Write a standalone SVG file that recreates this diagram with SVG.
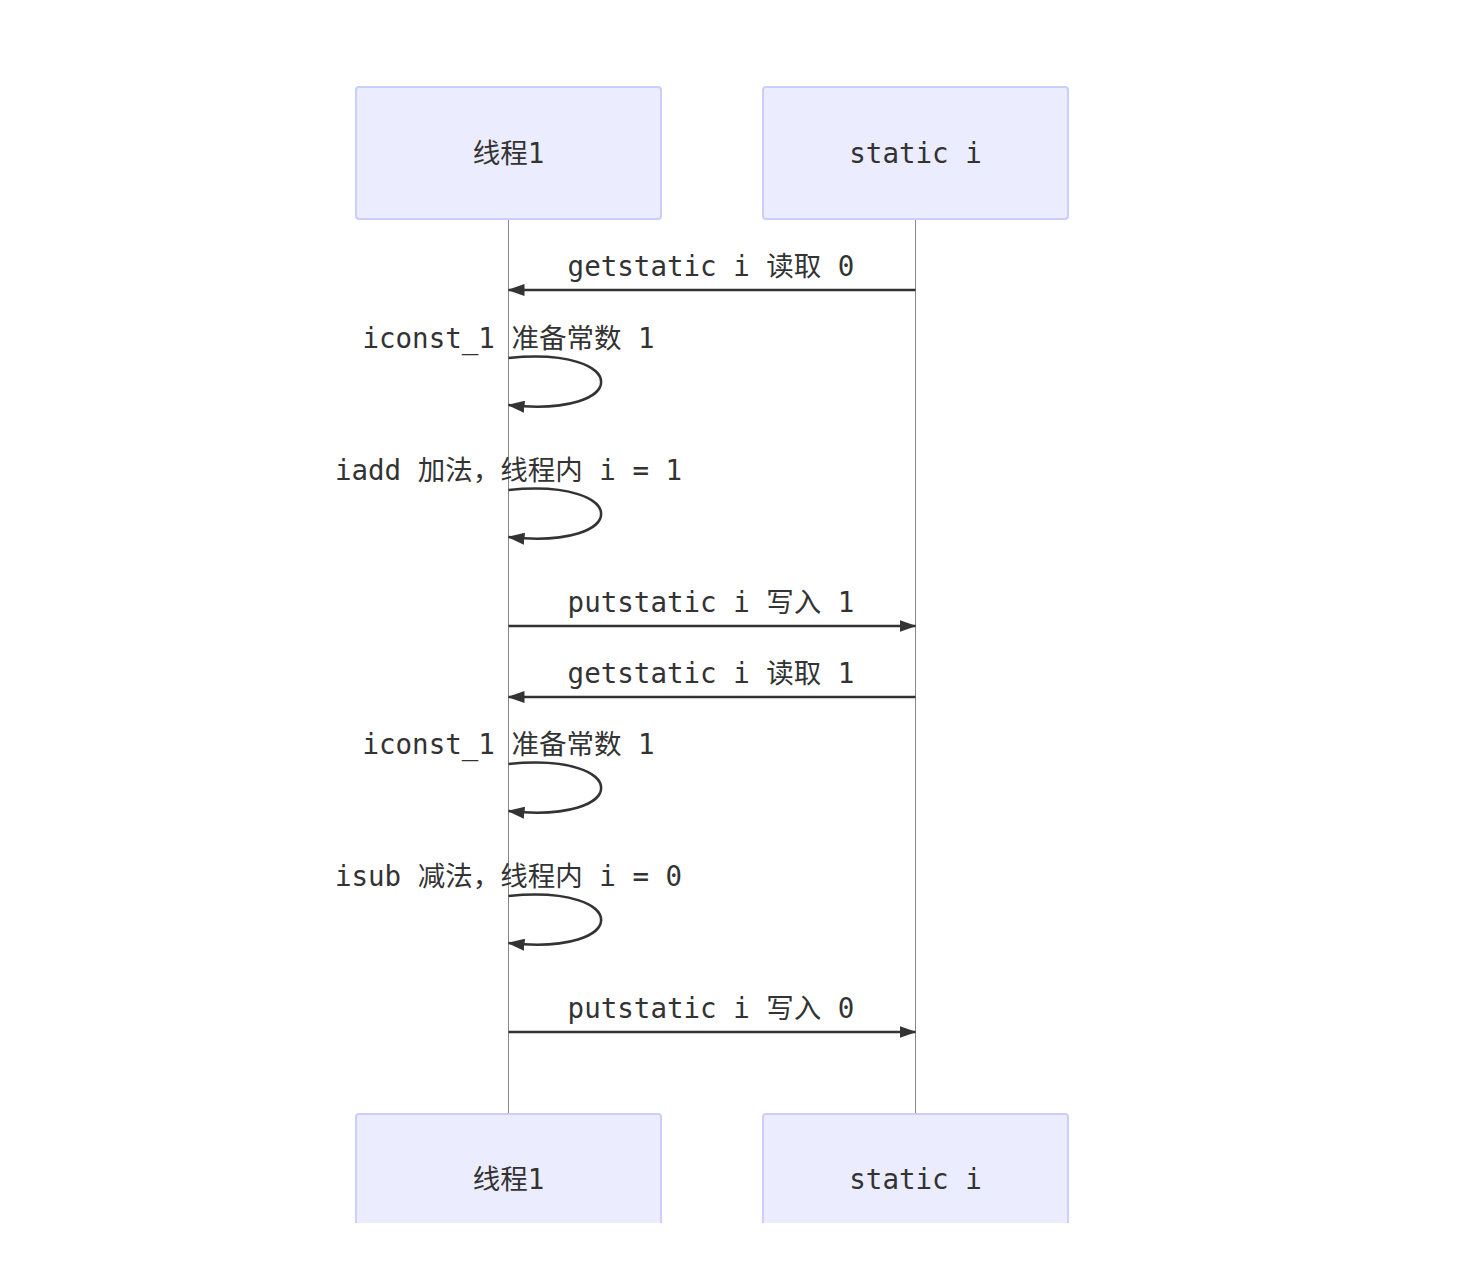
<svg xmlns="http://www.w3.org/2000/svg" width="1470" height="1262" viewBox="0 0 1470 1262">
<style>
.actor rect{fill:#ECECFF;stroke:#CCCCFF;stroke-width:2}
text{font-family:"DejaVu Sans Mono","Noto Sans CJK SC",monospace;font-size:27.5px;fill:#333;text-anchor:middle}
.life{stroke:#888;stroke-width:1}
.msg{stroke:#333;stroke-width:2.5;fill:none}
</style>
<defs>
<marker id="ah" viewBox="0 0 17 12" refX="16" refY="6" markerWidth="17" markerHeight="12" markerUnits="userSpaceOnUse" orient="auto">
<path d="M0,0 L17,6 L0,12 z" fill="#333"/>
</marker>
<clipPath id="clip"><rect x="0" y="0" width="1470" height="1223"/></clipPath>
</defs>
<rect width="1470" height="1262" fill="#fff"/>
<g id="lifelines">
<line class="life" x1="508.5" y1="219" x2="508.5" y2="1223"/>
<line class="life" x1="915.5" y1="219" x2="915.5" y2="1223"/>
</g>
<g id="actor-thread-top" class="actor"><rect x="356" y="87" width="305" height="132" rx="3"/><text x="508.5" y="163">线程1</text></g>
<g id="actor-static-top" class="actor"><rect x="763" y="87" width="305" height="132" rx="3"/><text x="915.5" y="163">static i</text></g>
<g clip-path="url(#clip)">
<g id="actor-thread-bottom" class="actor"><rect x="356" y="1114" width="305" height="132" rx="3"/><text x="508.5" y="1189">线程1</text></g>
<g id="actor-static-bottom" class="actor"><rect x="763" y="1114" width="305" height="132" rx="3"/><text x="915.5" y="1189">static i</text></g>
</g>
<g id="connectors">
<text x="711" y="276">getstatic i 读取 0</text>
<line class="msg" x1="915.5" y1="290" x2="508.5" y2="290" marker-end="url(#ah)"/>
<text x="508.5" y="348">iconst_1 准备常数 1</text>
<path class="msg" d="M508.5,358 C632,346 632,418 508.5,405" marker-end="url(#ah)"/>
<text x="508.5" y="480">iadd 加法，线程内 i = 1</text>
<path class="msg" d="M508.5,490 C632,478 632,550 508.5,537" marker-end="url(#ah)"/>
<text x="711" y="612">putstatic i 写入 1</text>
<line class="msg" x1="508.5" y1="626" x2="915.5" y2="626" marker-end="url(#ah)"/>
<text x="711" y="683">getstatic i 读取 1</text>
<line class="msg" x1="915.5" y1="697" x2="508.5" y2="697" marker-end="url(#ah)"/>
<text x="508.5" y="754">iconst_1 准备常数 1</text>
<path class="msg" d="M508.5,764 C632,752 632,824 508.5,811" marker-end="url(#ah)"/>
<text x="508.5" y="886">isub 减法，线程内 i = 0</text>
<path class="msg" d="M508.5,896 C632,884 632,956 508.5,943" marker-end="url(#ah)"/>
<text x="711" y="1018">putstatic i 写入 0</text>
<line class="msg" x1="508.5" y1="1032" x2="915.5" y2="1032" marker-end="url(#ah)"/>
</g>
</svg>
